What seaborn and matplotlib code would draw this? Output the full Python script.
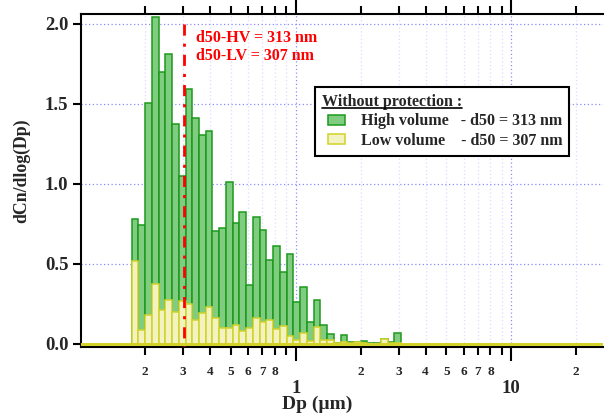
import numpy as np
import pandas as pd
import matplotlib
matplotlib.use("Agg")
import matplotlib.pyplot as plt
import seaborn as sns
from matplotlib.ticker import FixedLocator, FixedFormatter
from matplotlib.patches import Patch, Rectangle
from matplotlib.lines import Line2D
from matplotlib.legend_handler import HandlerPatch

# ---------------- data ----------------
# channel mid-point diameters (µm)
dp_um = [0.1798, 0.1931, 0.2075, 0.2231, 0.2397, 0.2576, 0.2768, 0.2974,
         0.3196, 0.3434, 0.3691, 0.3966, 0.4263, 0.4580, 0.4922, 0.5289,
         0.5684, 0.6108, 0.6564, 0.7053, 0.7580, 0.8145, 0.8753, 0.9406,
         1.0107, 1.0862, 1.1672, 1.2542, 1.3478, 1.4484, 1.5564, 1.6725,
         1.7973, 1.9315, 2.0756, 2.2304, 2.3967, 2.5756, 2.7677, 2.9742]
# dCn/dlog(Dp) - high volume
high_volume = [0.783, 0.742, 1.504, 2.046, 1.700, 1.810, 1.373, 1.050,
               1.594, 1.412, 1.304, 1.333, 0.706, 0.723, 1.015, 0.754,
               0.827, 0.367, 0.792, 0.712, 0.525, 0.612, 0.452, 0.560,
               0.260, 0.356, 0.140, 0.273, 0.119, 0.063, 0.008, 0.056,
               0.012, 0.010, 0.021, 0.003, 0.003, 0.030, 0.010, 0.067]
# dCn/dlog(Dp) - low volume
low_volume = [0.521, 0.088, 0.179, 0.373, 0.213, 0.273, 0.200, 0.267,
              0.252, 0.150, 0.194, 0.229, 0.165, 0.098, 0.098, 0.119,
              0.081, 0.098, 0.160, 0.135, 0.150, 0.092, 0.115, 0.048,
              0.023, 0.067, 0.019, 0.108, 0.025, 0.027, 0.004, 0.015,
              0.008, 0.015, 0.008, 0.000, 0.000, 0.029, 0.005, 0.005]

d50_hv_nm = 313
d50_lv_nm = 307
d50_line_um = 0.302

x_major_ticks = [1, 10]
x_major_labels = ["1", "10"]
x_minor_ticks = [0.2, 0.3, 0.4, 0.5, 0.6, 0.7, 0.8, 0.9,
                 2, 3, 4, 5, 6, 7, 8, 9, 20]
x_minor_labels = ["2", "3", "4", "5", "6", "7", "8", "",
                  "2", "3", "4", "5", "6", "7", "8", "", "2"]
y_ticks = [0.0, 0.5, 1.0, 1.5, 2.0]
y_labels = ["0.0", "0.5", "1.0", "1.5", "2.0"]

# ---------------- style ----------------
sns.set_theme(style="ticks")
plt.rcParams["font.family"] = ["Liberation Serif", "DejaVu Serif"]
plt.rcParams["font.weight"] = "bold"
plt.rcParams["axes.labelweight"] = "bold"

green_fill, green_edge = "#80cc80", "#1c9a1c"
yellow_fill, yellow_edge = "#f3f3c2", "#d2d22a"

fig = plt.figure(figsize=(6.05, 4.15), dpi=100)
ax = fig.add_axes([81 / 605, 1 - 347 / 415, 522 / 605, 333 / 415])

df = pd.DataFrame({"Dp": dp_um, "HV": high_volume, "LV": low_volume})
logc = np.log10(df["Dp"].to_numpy())
half = np.diff(logc).mean() / 2
edges = np.concatenate([logc - half, [logc[-1] + half]]).tolist()

sns.histplot(data=df, x="Dp", weights="HV", bins=edges, log_scale=True, ax=ax,
             color=green_fill, edgecolor=green_edge, linewidth=1.1, alpha=1,
             zorder=2)
sns.histplot(data=df, x="Dp", weights="LV", bins=edges, log_scale=True, ax=ax,
             color=yellow_fill, edgecolor=yellow_edge, linewidth=1.1, alpha=1,
             zorder=3)

ax.axhline(0, color=yellow_edge, lw=2.2, zorder=3.5)
ax.plot([d50_line_um, d50_line_um], [2.0, -0.02], color="red", lw=2.0,
        linestyle=(0, (4, 2.9, 1.1, 2.9)), zorder=4, solid_capstyle="butt")

ax.set_xscale("log")
ax.set_xlim(0.101, 26.6)
ax.set_ylim(-0.019, 2.0625)

ax.xaxis.set_major_locator(FixedLocator(x_major_ticks))
ax.xaxis.set_major_formatter(FixedFormatter(x_major_labels))
ax.xaxis.set_minor_locator(FixedLocator(x_minor_ticks))
ax.xaxis.set_minor_formatter(FixedFormatter(x_minor_labels))
ax.set_yticks(y_ticks)
ax.set_yticklabels(y_labels)

ax.tick_params(axis="x", which="major", direction="out", length=10, width=1.5,
               pad=14, labelsize=13.5, top=True, bottom=True, labeltop=False,
               color="black")
ax.tick_params(axis="x", which="minor", direction="out", length=5.5, width=1.5,
               pad=8, labelsize=9.5, top=True, bottom=True, labeltop=False,
               color="black")
ax.tick_params(axis="y", which="major", direction="out", length=6, width=1.5,
               pad=3, labelsize=13.5, left=True, right=False, color="black")

for side in ["left", "top", "bottom"]:
    ax.spines[side].set_visible(True)
    ax.spines[side].set_linewidth(1.5)
    ax.spines[side].set_color("black")
ax.spines["right"].set_visible(False)

ax.set_axisbelow(True)
ax.grid(True, which="major", axis="both", color="#8c8cff",
        linestyle=(0, (1, 2)), lw=0.9)
ax.grid(True, which="minor", axis="x", color="#dcdcff",
        linestyle=(0, (1, 2)), lw=0.9)

ax.set_xlabel("Dp (µm)", fontsize=14, fontweight="bold")
ax.set_ylabel("dCn/dlog(Dp)", fontsize=12.8, fontweight="bold")
ax.xaxis.set_label_coords(0.452, -0.146)
ax.yaxis.set_label_coords(-0.097, 0.528)

ax.text(0.2203, 0.928, f"d50-HV = {d50_hv_nm} nm", transform=ax.transAxes,
        color="red", fontsize=11.5, fontweight="bold", va="center", ha="left")
ax.text(0.2203, 0.874, f"d50-LV = {d50_lv_nm} nm", transform=ax.transAxes,
        color="red", fontsize=11.5, fontweight="bold", va="center", ha="left")


def indented_patch(legend, orig_handle, xdescent, ydescent, width, height,
                   fontsize):
    off = 0.26 * width
    return Rectangle((-xdescent + off, -ydescent), width - off, height)


handles = [Patch(facecolor=green_fill, edgecolor=green_edge, lw=1.1),
           Patch(facecolor=yellow_fill, edgecolor=yellow_edge, lw=1.1)]
labels = [f"High volume   - d50 = {d50_hv_nm} nm",
          f"Low volume    - d50 = {d50_lv_nm} nm"]
leg = ax.legend(handles, labels, title="Without protection :",
                loc="upper left",
                bbox_to_anchor=((315 - 81) / 522, (347 - 87) / 333),
                borderaxespad=0, frameon=True, fancybox=False,
                edgecolor="black", framealpha=1,
                prop=dict(weight="bold", size=11.5),
                title_fontproperties=dict(weight="bold", size=11.5),
                alignment="left", handlelength=1.45, handleheight=0.58,
                handletextpad=0.95, borderpad=0.45, labelspacing=0.2,
                handler_map={Patch: HandlerPatch(patch_func=indented_patch)})
leg.get_frame().set_linewidth(1.5)
leg.set_zorder(6)

fig.canvas.draw()
tb = leg.get_title().get_window_extent()
inv = fig.transFigure.inverted()
(x0, y0), (x1, _) = inv.transform([(tb.x0, tb.y0 + 2.5), (tb.x1, tb.y0 + 2.5)])
fig.add_artist(Line2D([x0, x1], [y0, y0], color="black", lw=1.2, zorder=10))

fig.savefig("out.png", dpi=100)
